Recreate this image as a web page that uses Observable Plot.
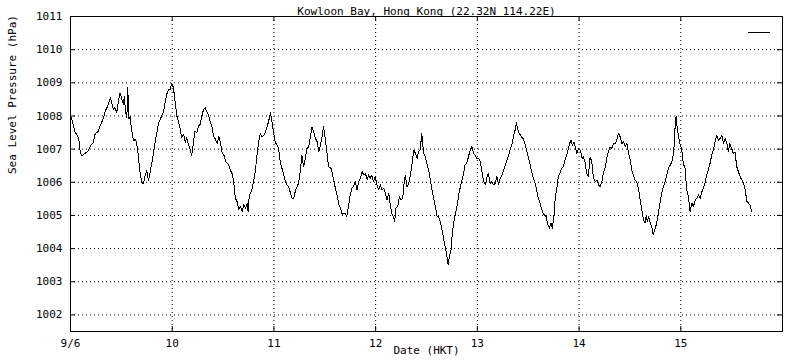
<!DOCTYPE html>
<html>
<head>
<meta charset="utf-8">
<script src="https://cdn.jsdelivr.net/npm/d3@7"></script>
<script src="https://cdn.jsdelivr.net/npm/@observablehq/plot@0.6"></script>
<style>
  html, body { margin: 0; padding: 0; background: #fff; }
  #chart svg { display: block; }
</style>
</head>
<body>
<div id="chart"></div>
<script>
// Hours since 9 June 00:00 HKT
const hours = [
  // 9 June
  0.2,0.7,1.1,1.7,2.0,2.3,2.7,3.5,4.2,4.7,5.4,5.8,6.6,7.0,7.8,8.2,8.8,9.4,9.7,10.1,
  10.5,10.9,11.3,11.7,12.1,12.5,12.7,13.0,13.3,13.5,13.8,14.1,14.3,14.6,14.9,15.3,15.6,16.0,16.4,16.8,
  17.2,17.6,18.0,18.4,18.8,19.2,19.6,20.0,20.4,20.8,21.2,21.5,21.9,22.3,22.7,23.1,23.5,23.9,24.3,24.7,
  25.1,25.5,25.9,26.2,26.7,27.1,27.4,27.8,28.2,28.6,29.0,29.4,29.8,30.2,30.6,31.0,31.4,31.8,32.1,
  // 10 June
  32.6,33.0,33.4,33.8,34.2,34.6,35.0,35.4,35.8,36.2,36.6,37.0,37.3,37.7,38.1,38.5,38.9,39.3,39.7,40.1,
  40.5,40.9,41.3,41.7,41.9,42.2,42.7,43.2,43.6,44.0,44.4,44.8,45.2,45.6,46.0,46.4,46.8,47.2,47.6,47.9,
  48.3,48.7,49.1,49.5,49.9,50.3,50.7,51.1,51.5,51.9,52.3,52.7,53.1,53.5,53.8,54.2,54.6,55.0,55.4,55.8,
  56.2,56.6,57.0,57.4,57.8,58.2,58.6,59.0,59.4,59.7,60.1,60.5,60.9,61.5,62.1,62.5,62.9,63.3,63.7,64.1,64.4,
  // 11-12 June
  64.8,65.2,65.6,66.0,66.4,66.8,67.2,67.6,68.0,68.4,68.8,69.2,69.6,70.0,70.3,70.7,71.1,71.5,71.9,72.3,
  72.7,73.1,73.5,73.9,74.3,74.7,75.1,75.5,75.9,76.2,76.5,76.8,77.2,77.6,78.0,78.4,78.6,79.0,79.4,79.8,
  80.2,80.6,81.0,81.4,81.8,82.1,82.5,82.9,83.3,83.7,84.1,84.5,84.9,85.3,85.7,86.1,86.5,86.8,87.2,87.6,
  88.0,88.4,88.8,89.1,89.4,89.8,90.1,90.4,90.8,91.2,91.6,92.0,92.4,92.7,93.1,93.5,93.9,94.3,94.7,95.1,95.5,95.9,
  // 13-14 June
  96.3,96.7,97.1,97.5,97.9,98.3,98.6,99.0,99.4,99.8,100.2,100.6,101.0,101.4,101.8,102.2,102.6,103.0,103.4,103.8,
  104.2,104.5,104.9,105.2,105.6,105.9,106.4,106.8,107.1,107.5,107.9,108.3,108.7,109.1,109.5,109.9,110.3,110.7,111.1,111.5,
  111.8,112.2,112.6,113.0,113.4,113.7,114.1,114.4,114.8,115.1,115.5,115.9,116.3,116.7,117.1,117.5,117.9,118.1,118.4,118.8,
  119.1,119.5,119.9,120.3,120.7,121.0,121.4,121.8,122.2,122.6,123.0,123.4,123.8,124.2,124.6,125.0,125.4,125.8,126.2,126.6,
  126.9,127.3,127.7,128.1,
  // 14-15 June
  128.5,128.9,129.3,129.7,130.1,130.5,130.9,131.3,131.7,132.1,132.5,132.8,133.2,133.6,134.0,134.4,134.8,135.2,135.6,135.8,
  136.1,136.4,136.8,137.2,137.5,137.9,138.3,138.7,139.1,139.5,139.9,140.3,140.7,141.1,141.5,141.9,142.3,142.5,142.7,142.9,
  143.1,143.4,143.8,144.2,144.6,145.0,145.4,145.8,146.2,146.6,147.0,147.4,147.8,148.2,148.6,149.0,149.3,149.7,150.1,150.5,
  150.9,151.3,151.7,152.1,152.5,152.9,153.3,153.7,154.1,154.5,154.9,155.2,155.6,156.0,156.4,156.8,157.2,157.6,158.0,158.4,
  158.8,159.2,159.6,160.0,160.3,160.7
];

// Sea level pressure (hPa)
const pressure = [
  // 9 June
  1007.95,1007.7,1007.5,1007.4,1007.25,1006.9,1006.8,1006.88,1006.95,1007.1,1007.2,1007.45,1007.55,1007.7,1007.95,1008.15,1008.3,1008.55,1008.4,1008.2,
  1008.25,1008.1,1008.45,1008.7,1008.5,1008.35,1008.6,1008.1,1007.95,1008.85,1007.9,1008.0,1007.7,1007.45,1007.25,1007.3,1007.2,1006.8,1006.3,1006.0,
  1005.95,1006.2,1006.35,1006.05,1006.3,1006.6,1006.9,1007.25,1007.5,1007.8,1007.9,1008.0,1008.1,1008.4,1008.65,1008.8,1008.8,1008.98,1008.85,1008.4,
  1008.0,1007.8,1007.6,1007.35,1007.45,1007.2,1007.35,1007.15,1007.0,1006.8,1007.2,1007.55,1007.5,1007.7,1007.75,1008.0,1008.2,1008.25,1008.15,
  // 10 June
  1008.02,1007.82,1007.67,1007.37,1007.3,1007.17,1007.37,1007.2,1006.87,1006.82,1006.62,1006.57,1006.52,1006.37,1006.27,1006.02,1005.52,1005.42,1005.17,1005.27,
  1005.12,1005.32,1005.22,1005.37,1005.12,1005.62,1005.72,1006.02,1006.32,1006.82,1007.22,1007.47,1007.37,1007.42,1007.52,1007.67,1007.87,1008.1,1007.77,1007.52,
  1007.22,1007.12,1007.02,1006.62,1006.42,1006.22,1006.02,1005.92,1005.87,1005.67,1005.52,1005.52,1005.77,1005.87,1005.97,1006.32,1006.82,1006.47,1006.72,1007.02,
  1007.07,1007.37,1007.67,1007.52,1007.32,1007.22,1006.92,1007.12,1007.42,1007.67,1007.32,1006.92,1006.47,1006.42,1006.07,1005.82,1005.62,1005.32,1005.22,1005.02,1005.07,
  // 11-12 June
  1005.07,1004.97,1005.27,1005.62,1005.82,1005.87,1006.02,1005.77,1006.02,1006.12,1006.32,1006.22,1006.27,1006.07,1006.22,1006.12,1006.22,1006.02,1006.17,1005.92,
  1005.77,1005.92,1005.77,1005.82,1005.67,1005.47,1005.67,1005.27,1005.02,1004.97,1004.82,1005.22,1005.27,1005.57,1005.47,1005.52,1005.87,1006.22,1005.87,1005.97,
  1006.22,1006.57,1006.97,1006.87,1006.72,1006.92,1006.97,1007.47,1006.87,1006.77,1006.57,1006.37,1006.07,1005.77,1005.52,1005.27,1004.97,1004.97,1004.82,1004.62,
  1004.32,1004.07,1003.77,1003.52,1003.77,1003.97,1004.47,1004.77,1005.02,1005.27,1005.62,1005.87,1006.07,1006.22,1006.52,1006.57,1006.77,1006.97,1007.07,1006.87,1006.82,1006.72,
  // 13-14 June
  1006.72,1006.62,1006.32,1006.02,1005.92,1006.17,1006.27,1005.97,1006.02,1005.92,1005.97,1006.17,1005.92,1006.12,1006.22,1006.37,1006.52,1006.67,1006.82,1007.02,
  1007.17,1007.37,1007.57,1007.8,1007.57,1007.47,1007.37,1007.32,1007.22,1007.02,1006.82,1006.62,1006.37,1006.17,1006.02,1005.82,1005.57,1005.42,1005.22,1005.07,
  1005.02,1004.97,1004.72,1004.62,1004.77,1004.62,1005.02,1005.57,1005.87,1006.17,1006.27,1006.42,1006.47,1006.67,1006.82,1007.02,1007.22,1007.27,1007.12,1007.22,
  1007.07,1006.87,1007.02,1006.97,1006.72,1006.77,1006.62,1006.27,1006.17,1006.77,1006.62,1006.12,1006.02,1006.07,1005.92,1005.87,1006.02,1006.32,1006.47,1006.77,
  1006.92,1007.07,1007.02,1007.17,
  // 14-15 June
  1007.17,1007.27,1007.47,1007.37,1007.17,1007.22,1007.07,1007.17,1006.87,1006.67,1006.32,1006.22,1006.07,1006.02,1005.82,1005.47,1005.17,1004.87,1004.77,1004.97,
  1004.82,1004.97,1004.77,1004.62,1004.42,1004.57,1004.77,1005.07,1005.37,1005.67,1005.87,1006.02,1006.22,1006.42,1006.52,1006.62,1006.87,1007.27,1007.77,1007.99,
  1007.72,1007.42,1007.17,1007.02,1006.57,1006.42,1005.77,1005.57,1005.12,1005.37,1005.27,1005.47,1005.52,1005.62,1005.52,1005.72,1005.82,1005.97,1006.22,1006.37,
  1006.57,1006.82,1006.97,1007.22,1007.42,1007.27,1007.32,1007.42,1007.17,1007.32,1007.17,1006.92,1007.17,1007.02,1006.87,1006.92,1006.47,1006.32,1006.17,1006.07,
  1005.97,1005.77,1005.42,1005.37,1005.32,1005.12
];

const xTicks = [0, 24, 48, 72, 96, 120, 144];
const xTickLabels = ["9/6", "10", "11", "12", "13", "14", "15"];
const yTicks = [1002, 1003, 1004, 1005, 1006, 1007, 1008, 1009, 1010, 1011];
const title = "Kowloon Bay, Hong Kong (22.32N 114.22E)";
const xLabel = "Date (HKT)";
const yLabel = "Sea Level Pressure (hPa)";

const data = hours.map((h, i) => ({h, p: pressure[i]}));

const W = 800, H = 360, ML = 70, MR = 18, MT = 16, MB = 29;
const FW = W - ML - MR, FH = H - MT - MB;

const plot = Plot.plot({
  width: W, height: H,
  marginLeft: ML, marginRight: MR, marginTop: MT, marginBottom: MB,
  style: {fontFamily: "'DejaVu Sans Mono', monospace", fontSize: "11px", color: "black", background: "white"},
  x: {type: "linear", domain: [0, 168]},
  y: {domain: [1001.5, 1011]},
  marks: [
    Plot.gridX(xTicks, {stroke: "black", strokeOpacity: 1, strokeDasharray: "1,3"}),
    Plot.gridY(yTicks, {stroke: "black", strokeOpacity: 1, strokeDasharray: "1,3"}),
    Plot.tickY(yTicks, {y: d => d, stroke: "black", insetRight: FW - 5}),
    Plot.tickY(yTicks, {y: d => d, stroke: "black", insetLeft: FW - 5}),
    Plot.tickX(xTicks, {x: d => d, stroke: "black", insetBottom: FH - 5}),
    Plot.tickX(xTicks, {x: d => d, stroke: "black", insetTop: FH - 5}),
    Plot.axisX(xTicks, {tickSize: 0, tickPadding: 8, tickFormat: (d, i) => xTickLabels[xTicks.indexOf(d)], label: null, fill: "black"}),
    Plot.axisY(yTicks, {tickSize: 0, tickPadding: 8, tickFormat: d => String(d), label: null, fill: "black"}),
    Plot.frame({stroke: "black"}),
    Plot.line(data, {x: "h", y: "p", stroke: "black", strokeWidth: 1, shapeRendering: "crispEdges"}),
    Plot.text([title], {frameAnchor: "top", dy: -9.5, text: d => d, fill: "black"}),
    Plot.text([xLabel], {frameAnchor: "bottom", dy: 22.5, text: d => d, fill: "black"}),
    Plot.text([yLabel], {frameAnchor: "left", dx: -58, rotate: -90, text: d => d, fill: "black"})
  ]
});

// legend key (line sample, top-right inside the frame)
d3.select(plot).append("line")
  .attr("x1", W - MR - 34).attr("x2", W - MR - 12)
  .attr("y1", MT + 16.5).attr("y2", MT + 16.5)
  .attr("stroke", "black").attr("stroke-width", 1);

document.getElementById("chart").append(plot);
</script>
</body>
</html>
